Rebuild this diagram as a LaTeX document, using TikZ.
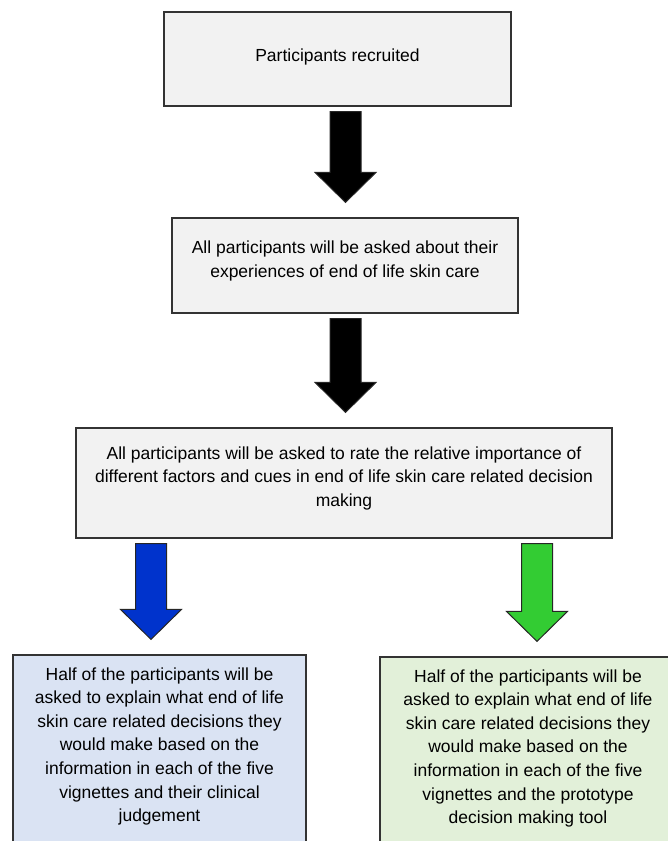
\documentclass[tikz,border=0pt]{standalone}
\usepackage{fontspec}
\setmainfont{Liberation Sans}
\usetikzlibrary{calc}
\definecolor{boxgray}{HTML}{F2F2F2}
\definecolor{boxblue}{HTML}{DAE3F3}
\definecolor{boxgreen}{HTML}{E2F0D9}
\definecolor{arrowblue}{HTML}{0033CC}
\definecolor{arrowgreen}{HTML}{33CC33}
\definecolor{edgegray}{HTML}{333333}
\begin{document}
\begin{tikzpicture}[x=1pt,y=-1pt,
    box/.style={draw=edgegray,line width=1.2pt,align=center,inner sep=0pt,
      font=\fontsize{17.5}{23.6}\selectfont,text depth=13pt},
    blockarrow/.style={draw=black!85,line width=1pt,line join=miter}]
      \useasboundingbox (0,0) rectangle (668,841);
      \clip (0,0) rectangle (668,841);
      \def \Boxes{
        recruit/337.5/59/347/94/8/boxgray/{Participants recruited},
        asked/345/265.5/346/95/13/boxgray/{All participants will be asked about their\\experiences of end of life skin care},
        rate/344/483/536/110/13/boxgray/{All participants will be asked to rate the relative importance of\\different factors and cues in end of life skin care related decision\\making},
        judge/159.5/752/293/194/15/boxblue/{Half of the participants will be\\asked to explain what end of life\\skin care related decisions they\\would make based on the\\information in each of the five\\vignettes and their clinical\\judgement},
        tool/528/754/296/194/15/boxgreen/{Half of the participants will be\\asked to explain what end of life\\skin care related decisions they\\would make based on the\\information in each of the five\\vignettes and the prototype\\decision making tool}}
      \def \Arrows{
        recruit/asked/345.5/black,
        asked/rate/345.5/black,
        rate/judge/151/arrowblue,
        rate/tool/537/arrowgreen}
      \foreach \id / \x / \y / \w / \h / \d / \c / \t in \Boxes{
        \node[box,fill=\c,minimum width=\w,minimum height=\h,text depth=\d] (\id) at (\x, \y) {\t};
      }
      \foreach \a / \b / \x / \c in \Arrows{
        \coordinate (\a-\b-x) at (\x, 0);
        \coordinate (\a-\b-top) at ($(\a.south -| \a-\b-x)+(0,5)$);
        \coordinate (\a-\b-tip) at ($(\b.north -| \a-\b-x)+(0,-15)$);
        \path[draw,blockarrow,fill=\c] ($(\a-\b-top)+(-15.5,0)$) -- ($(\a-\b-top)+(15.5,0)$)
          -- ($(\a-\b-tip)+(15.5,-30)$) -- ($(\a-\b-tip)+(30.5,-30)$) -- (\a-\b-tip)
          -- ($(\a-\b-tip)+(-30.5,-30)$) -- ($(\a-\b-tip)+(-15.5,-30)$) -- cycle;
      }
    \end{tikzpicture}
\end{document}
